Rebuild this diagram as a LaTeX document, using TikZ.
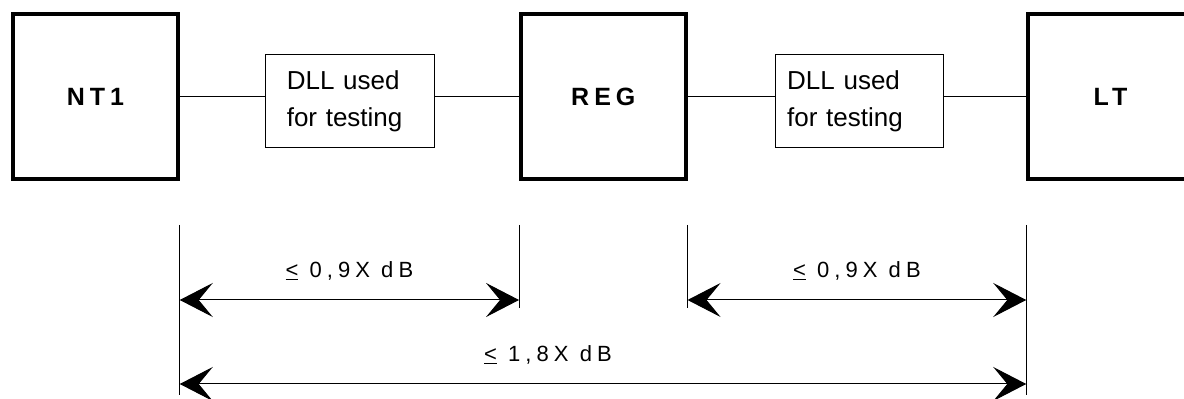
\documentclass[tikz,border=0pt]{standalone}
\usepackage{fontspec}
\setmainfont{Liberation Sans}
\usetikzlibrary{arrows.meta}

\begin{document}
\begin{tikzpicture}[x=1pt, y=1pt, line width=1pt,
  unit/.style={draw, line width=3.5pt, minimum width=165pt, minimum height=165pt, inner sep=0pt,
    font=\fontsize{25}{30}\selectfont\bfseries\addfontfeature{LetterSpace=20}},
  dll/.style={draw, minimum height=93pt, align=left, inner ysep=0pt,
    font=\fontsize{26}{36.7}\selectfont},
  dimlabel/.style={anchor=base, yshift=22pt,
    font=\fontsize{22}{26}\selectfont\addfontfeature{LetterSpace=23}},
  >={Stealth[length=33pt, width=34pt, inset=14pt]}]
\useasboundingbox (0, 0) rectangle (1184, 399);
\node[unit] (nt1) at (95.5, 302.5) {NT1};
\node[unit] (reg) at (603.3, 302.5) {REG};
\node[unit] (lt) at (1110.5, 302.5) {LT};
\node[dll, inner xsep=21pt, text width=127pt] (dll1) at (350.3, 297.7) {DLL used\\for testing};
\node[dll, inner xsep=12pt, text width=144pt] (dll2) at (859.2, 297.7) {DLL used\\for testing};
\draw (nt1.east) -- (nt1.east -| dll1.west);
\draw (dll1.east |- reg.west) -- (reg.west);
\draw (reg.east) -- (reg.east -| dll2.west);
\draw (dll2.east |- lt.west) -- (lt.west);
\coordinate (x1) at (nt1.east |- 0,174);
\coordinate (x2) at (reg.west |- 0,174);
\coordinate (x3) at (reg.east |- 0,174);
\coordinate (x4) at (lt.west |- 0,174);
\draw (x1) -- ++(0, -170);
\draw (x2) -- ++(0, -83);
\draw (x3) -- ++(0, -83);
\draw (x4) -- ++(0, -170);
\draw[<->] (x1 |- 0,99) -- node[dimlabel] {\underline{<} 0,9X dB} (x2 |- 0,99);
\draw[<->] (x3 |- 0,99) -- node[dimlabel] {\underline{<} 0,9X dB} (x4 |- 0,99);
\draw[<->] (x1 |- 0,15) -- node[dimlabel, pos=0.435] {\underline{<} 1,8X dB} (x4 |- 0,15);
\end{tikzpicture}
\end{document}
